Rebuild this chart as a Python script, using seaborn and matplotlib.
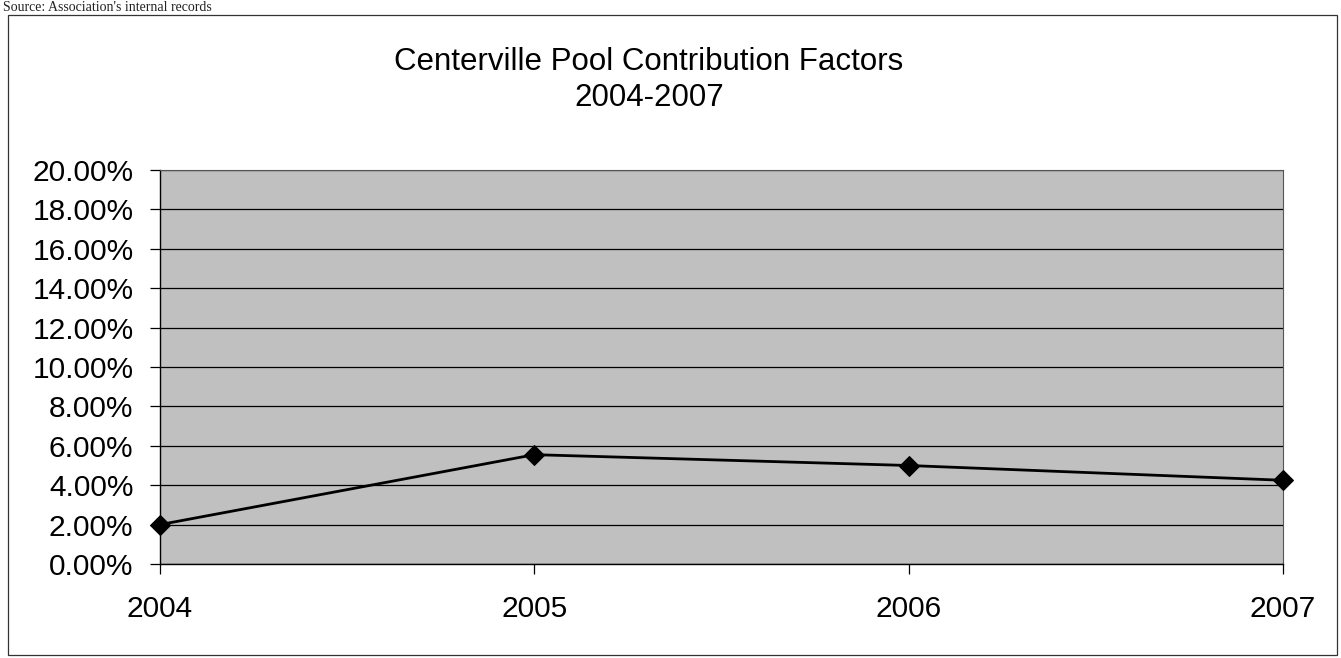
import matplotlib
matplotlib.use("Agg")
import matplotlib.pyplot as plt
import seaborn as sns
import pandas as pd
from matplotlib.patches import Rectangle
from matplotlib.ticker import FuncFormatter

# ---- data ----
years = [2004, 2005, 2006, 2007]
contribution_pct = [2.00, 5.55, 5.00, 4.25]
y_ticks = [0, 2, 4, 6, 8, 10, 12, 14, 16, 18, 20]
title_text = "Centerville Pool Contribution Factors\n2004-2007"
source_text = "Source: Association's internal records"

df = pd.DataFrame({"year": years, "pct": contribution_pct})

sns.set_theme(style="white")
plt.rcParams["font.family"] = ["Liberation Sans", "DejaVu Sans"]

W, H = 1341, 658
fig = plt.figure(figsize=(W / 100, H / 100), dpi=100)
fig.patch.set_facecolor("white")

# outer chart border
fig.patches.append(Rectangle((8 / W, 1 - 655 / H), (1337 - 8) / W, (655 - 15) / H,
                             transform=fig.transFigure, fill=False,
                             edgecolor="#333333", linewidth=0.9))

# source note at top-left
fig.text(3 / W, 1 - 1 / H, source_text, family=["Liberation Serif", "DejaVu Serif"],
         fontsize=10, color="#222222", ha="left", va="top")

left, right = 160 / W, 1283 / W
bottom, top = 1 - 564 / H, 1 - 170 / H
ax = fig.add_axes([left, bottom, right - left, top - bottom])
ax.set_facecolor("#c0c0c0")

sns.lineplot(data=df, x="year", y="pct", ax=ax, color="black", linewidth=2.0,
             marker="D", markersize=10, markeredgecolor="black",
             markerfacecolor="black", clip_on=False, zorder=5)

ax.set_xlim(years[0], years[-1])
ax.set_ylim(y_ticks[0], y_ticks[-1])
ax.set_yticks(y_ticks)
ax.set_xticks(years)
ax.set_xticklabels([str(y) for y in years])
ax.yaxis.set_major_formatter(FuncFormatter(lambda v, p: f"{v:.2f}%"))
ax.grid(axis="y", color="black", linewidth=0.9)
ax.grid(axis="x", visible=False)
ax.set_axisbelow(True)

for s in ["left", "bottom"]:
    ax.spines[s].set_color("black")
    ax.spines[s].set_linewidth(1.0)
for s in ["top", "right"]:
    ax.spines[s].set_color("#555555")
    ax.spines[s].set_linewidth(0.8)

ax.tick_params(axis="y", direction="out", length=7, width=0.9, color="black",
               labelsize=21.5, pad=12, left=True, labelcolor="black")
ax.tick_params(axis="x", direction="out", length=7, width=0.9, color="black",
               labelsize=21.5, pad=15, bottom=True, labelcolor="black")
ax.set_xlabel("")
ax.set_ylabel("")

fig.text(649 / W, 1 - 80 / H, title_text, ha="center", va="center",
         fontsize=22.5, color="black", linespacing=1.3)

fig.savefig("out.png", dpi=100)
